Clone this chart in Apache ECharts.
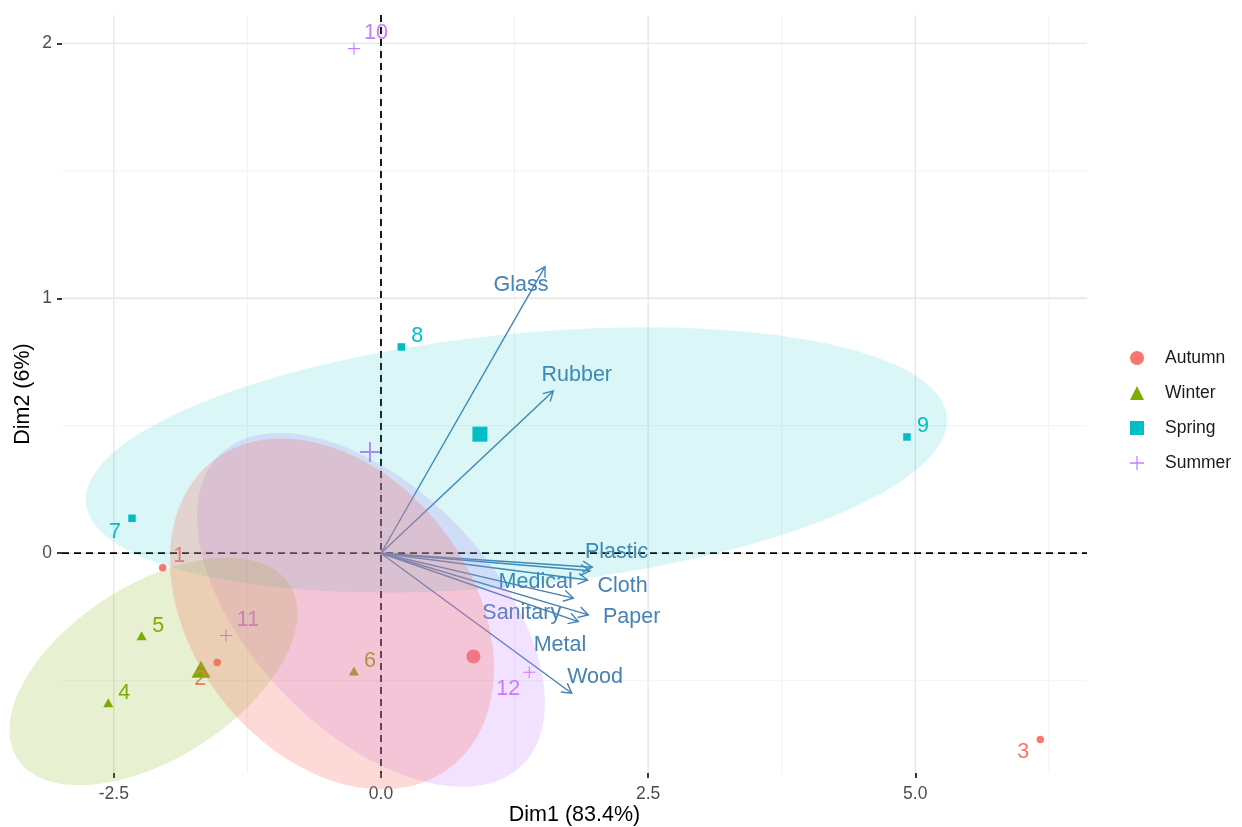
<!DOCTYPE html>
<html><head><meta charset="utf-8">
<script src="https://cdn.jsdelivr.net/npm/echarts@6/dist/echarts.min.js"></script>
<style>html,body{margin:0;padding:0;background:#fff}#c{width:1242px;height:827px}</style>
</head><body><div id="c"></div>
<script>
// ---------- data ----------
const groups = ['Autumn', 'Winter', 'Spring', 'Summer'];
const pointNames = ['1','2','3','4','5','6','7','8','9','10','11','12'];
const pointGroup = [0,0,0,1,1,1,2,2,2,3,3,3];
const pointX = [-2.043,-1.532,6.170,-2.552,-2.240,-0.253,-2.330,0.190,4.922,-0.253,-1.450,1.388];
const pointY = [-0.057,-0.429,-0.731,-0.586,-0.324,-0.462,0.137,0.809,0.456,1.979,-0.323,-0.467];
const meanX = [0.865,-1.684,0.926,-0.103];
const meanY = [-0.405,-0.455,0.467,0.397];
const ellipseCx = [-0.459,-2.129,1.267,-0.094];
const ellipseCy = [-0.238,-0.464,0.366,-0.222];
const ellipseSx = [1.516,1.347,4.030,1.628];
const ellipseSy = [0.688,0.446,0.520,0.694];
const ellipseR  = [-0.31,0.514,0.30,-0.525];
const varNames = ['Glass','Rubber','Plastic','Cloth','Medical','Sanitary','Paper','Metal','Wood'];
const varX = [1.535,1.613,1.977,1.956,1.934,1.800,1.940,1.846,1.785];
const varY = [1.124,0.636,-0.055,-0.069,-0.105,-0.176,-0.242,-0.268,-0.549];
const xTicks = [-2.5, 0, 2.5, 5];
const xMinorTicks = [-1.25, 1.25, 3.75, 6.25];
const yTicks = [0, 1, 2];
const yMinorTicks = [-0.5, 0.5, 1.5];
const xTitle = 'Dim1 (83.4%)';
const yTitle = 'Dim2 (6%)';

// ---------- styles / layout ----------
const groupColors = ['#F8766D', '#7CAE00', '#00BFC4', '#C77CFF'];
const ellipseAlpha = [0.27, 0.18, 0.14, 0.22];
const ellipseDrawOrder = [3, 2, 1, 0];
const varColor = '#4682B4';
const FONT = '"Liberation Sans", Arial, sans-serif';
const xMin = -2.985, xMax = 6.607, yMin = -0.862, yMax = 2.111;
const plusPath = 'path://M0,4.55H10V5.45H0Z M4.55,0H5.45V10H4.55Z';
const groupSymbols = ['circle', 'triangle', 'rect', plusPath];
const pointSizes = [7.5, [10, 9], 7.5, 12];
const meanSizes = [14, [19, 17], 15, 20];
const pointLabelOffsets = [[16.6,-11.7],[-17,16],[-17,12.6],[16,-9.4],[16.6,-9.3],[16,-10],
                           [-17,13.4],[16,-10.7],[16,-11],[22,-15.6],[22,-15.7],[-21,17]];
const varLabelOffsets = [[-24,18],[23.4,-16],[24.4,-15.6],[32.5,15],[-52,1.7],[-51.6,15],[43.4,1.7],[-18.3,23.3],[23.3,-16.6]];

const gridLines = [];
xTicks.forEach(v => gridLines.push({d:'x', v:v, major:true}));
xMinorTicks.forEach(v => gridLines.push({d:'x', v:v, major:false}));
yTicks.forEach(v => gridLines.push({d:'y', v:v, major:true}));
yMinorTicks.forEach(v => gridLines.push({d:'y', v:v, major:false}));

const chart = echarts.init(document.getElementById('c'), null, {renderer:'canvas'});

const series = [];
// grid lines
series.push({
  type:'custom', z:1, silent:true, clip:true,
  data: gridLines.map((g, i) => [i]),
  renderItem: function (params, api) {
    const g = gridLines[params.dataIndex];
    const cs = params.coordSys;
    const style = {stroke: g.major ? '#e6e6e6' : '#f0f0f0', lineWidth: g.major ? 1.3 : 0.9};
    if (g.d === 'x') {
      const px = api.coord([g.v, 0])[0];
      return {type:'line', shape:{x1:px, y1:cs.y, x2:px, y2:cs.y+cs.height}, style:style};
    } else {
      const py = api.coord([0, g.v])[1];
      return {type:'line', shape:{x1:cs.x, y1:py, x2:cs.x+cs.width, y2:py}, style:style};
    }
  }
});
// zero dashed lines
series.push({
  type:'custom', z:2, silent:true, clip:false,
  data: [[0],[1]],
  renderItem: function (params, api) {
    const cs = params.coordSys;
    const o = api.coord([0, 0]);
    const style = {stroke:'#000', lineWidth:1.8, lineDash:[7,5]};
    if (params.dataIndex === 0)
      return {type:'line', shape:{x1:o[0], y1:cs.y, x2:o[0], y2:cs.y+cs.height}, style:style};
    return {type:'line', shape:{x1:cs.x, y1:o[1], x2:cs.x+cs.width, y2:o[1]}, style:style};
  }
});
// points per group
groups.forEach((g, gi) => {
  const data = [];
  pointNames.forEach((n, i) => {
    if (pointGroup[i] !== gi) return;
    data.push({value:[pointX[i], pointY[i]], name:n, symbolSize: pointSizes[gi],
      label:{show:true, offset: pointLabelOffsets[i]}});
  });
  data.push({value:[meanX[gi], meanY[gi]], name:'', symbolSize: meanSizes[gi], label:{show:false}});
  series.push({
    type:'scatter', name:g, z:3, silent:true,
    symbol: groupSymbols[gi],
    itemStyle:{color: groupColors[gi], opacity:1},
    label:{show:true, position:'inside', formatter:'{b}', color: groupColors[gi],
      fontSize:21.5, fontFamily:FONT, align:'center', verticalAlign:'middle'},
    data: data
  });
});
// variable arrows
series.push({
  type:'custom', z:4, silent:true, clip:false,
  data: varNames.map((n, i) => [varX[i], varY[i]]),
  renderItem: function (params, api) {
    const i = params.dataIndex;
    const o = api.coord([0, 0]);
    const t = api.coord([varX[i], varY[i]]);
    const ang = Math.atan2(t[1]-o[1], t[0]-o[0]);
    const L = 11, ha = Math.PI/6;
    const h1 = [t[0] - L*Math.cos(ang-ha), t[1] - L*Math.sin(ang-ha)];
    const h2 = [t[0] - L*Math.cos(ang+ha), t[1] - L*Math.sin(ang+ha)];
    const off = varLabelOffsets[i];
    return {type:'group', children:[
      {type:'line', shape:{x1:o[0], y1:o[1], x2:t[0], y2:t[1]}, style:{stroke:varColor, lineWidth:1.4}},
      {type:'polyline', shape:{points:[h1, t, h2]}, style:{stroke:varColor, lineWidth:1.4, fill:null}},
      {type:'text', x:t[0]+off[0], y:t[1]+off[1], style:{text:varNames[i], fill:varColor,
        fontSize:21.5, fontFamily:FONT, align:'center', verticalAlign:'middle'}}
    ]};
  }
});
// ellipses on top
series.push({
  type:'custom', z:5, silent:true, clip:false,
  data: ellipseDrawOrder.map(g => [ellipseCx[g], ellipseCy[g]]),
  renderItem: function (params, api) {
    const g = ellipseDrawOrder[params.dataIndex];
    const pts = [];
    const N = 160;
    const q = Math.sqrt(1 - ellipseR[g]*ellipseR[g]);
    for (let k = 0; k < N; k++) {
      const a = 2*Math.PI*k/N;
      const x = ellipseCx[g] + ellipseSx[g]*Math.cos(a);
      const y = ellipseCy[g] + ellipseSy[g]*(ellipseR[g]*Math.cos(a) + q*Math.sin(a));
      pts.push(api.coord([x, y]));
    }
    return {type:'polygon', shape:{points:pts}, style:{fill: groupColors[g], opacity: ellipseAlpha[g]}};
  }
});

chart.setOption({
  animation:false,
  backgroundColor:'#fff',
  textStyle:{fontFamily:FONT},
  grid:{left:62, top:15, width:1025, height:758, containLabel:false, outerBoundsMode:'none'},
  xAxis:{type:'value', min:xMin, max:xMax,
    axisLine:{show:false, onZero:false},
    axisTick:{show:true, customValues:xTicks, length:5, lineStyle:{color:'#222', width:1.8}},
    axisLabel:{customValues:xTicks, formatter:v => Number(v).toFixed(1), color:'#4d4d4d', fontSize:17.5, margin:12, fontFamily:FONT},
    splitLine:{show:false},
    name:xTitle, nameLocation:'middle', nameGap:31, nameMoveOverlap:false,
    nameTextStyle:{fontSize:21.5, color:'#000', fontFamily:FONT}},
  yAxis:{type:'value', min:yMin, max:yMax,
    axisLine:{show:false, onZero:false},
    axisTick:{show:true, customValues:yTicks, length:5, lineStyle:{color:'#222', width:1.8}},
    axisLabel:{customValues:yTicks, formatter:v => String(Math.round(v)), color:'#4d4d4d', fontSize:17.5, margin:10, fontFamily:FONT},
    splitLine:{show:false},
    name:yTitle, nameLocation:'middle', nameGap:28, nameRotate:90, nameMoveOverlap:false,
    nameTextStyle:{fontSize:21.5, color:'#000', fontFamily:FONT}},
  legend:{orient:'vertical', left:1125, top:344, itemWidth:14, itemHeight:14, itemGap:17,
    data:groups, selectedMode:false,
    textStyle:{fontSize:17.5, color:'#1a1a1a', lineHeight:14, padding:[0,0,0,16], fontFamily:FONT}},
  series:series
});
</script></body></html>
